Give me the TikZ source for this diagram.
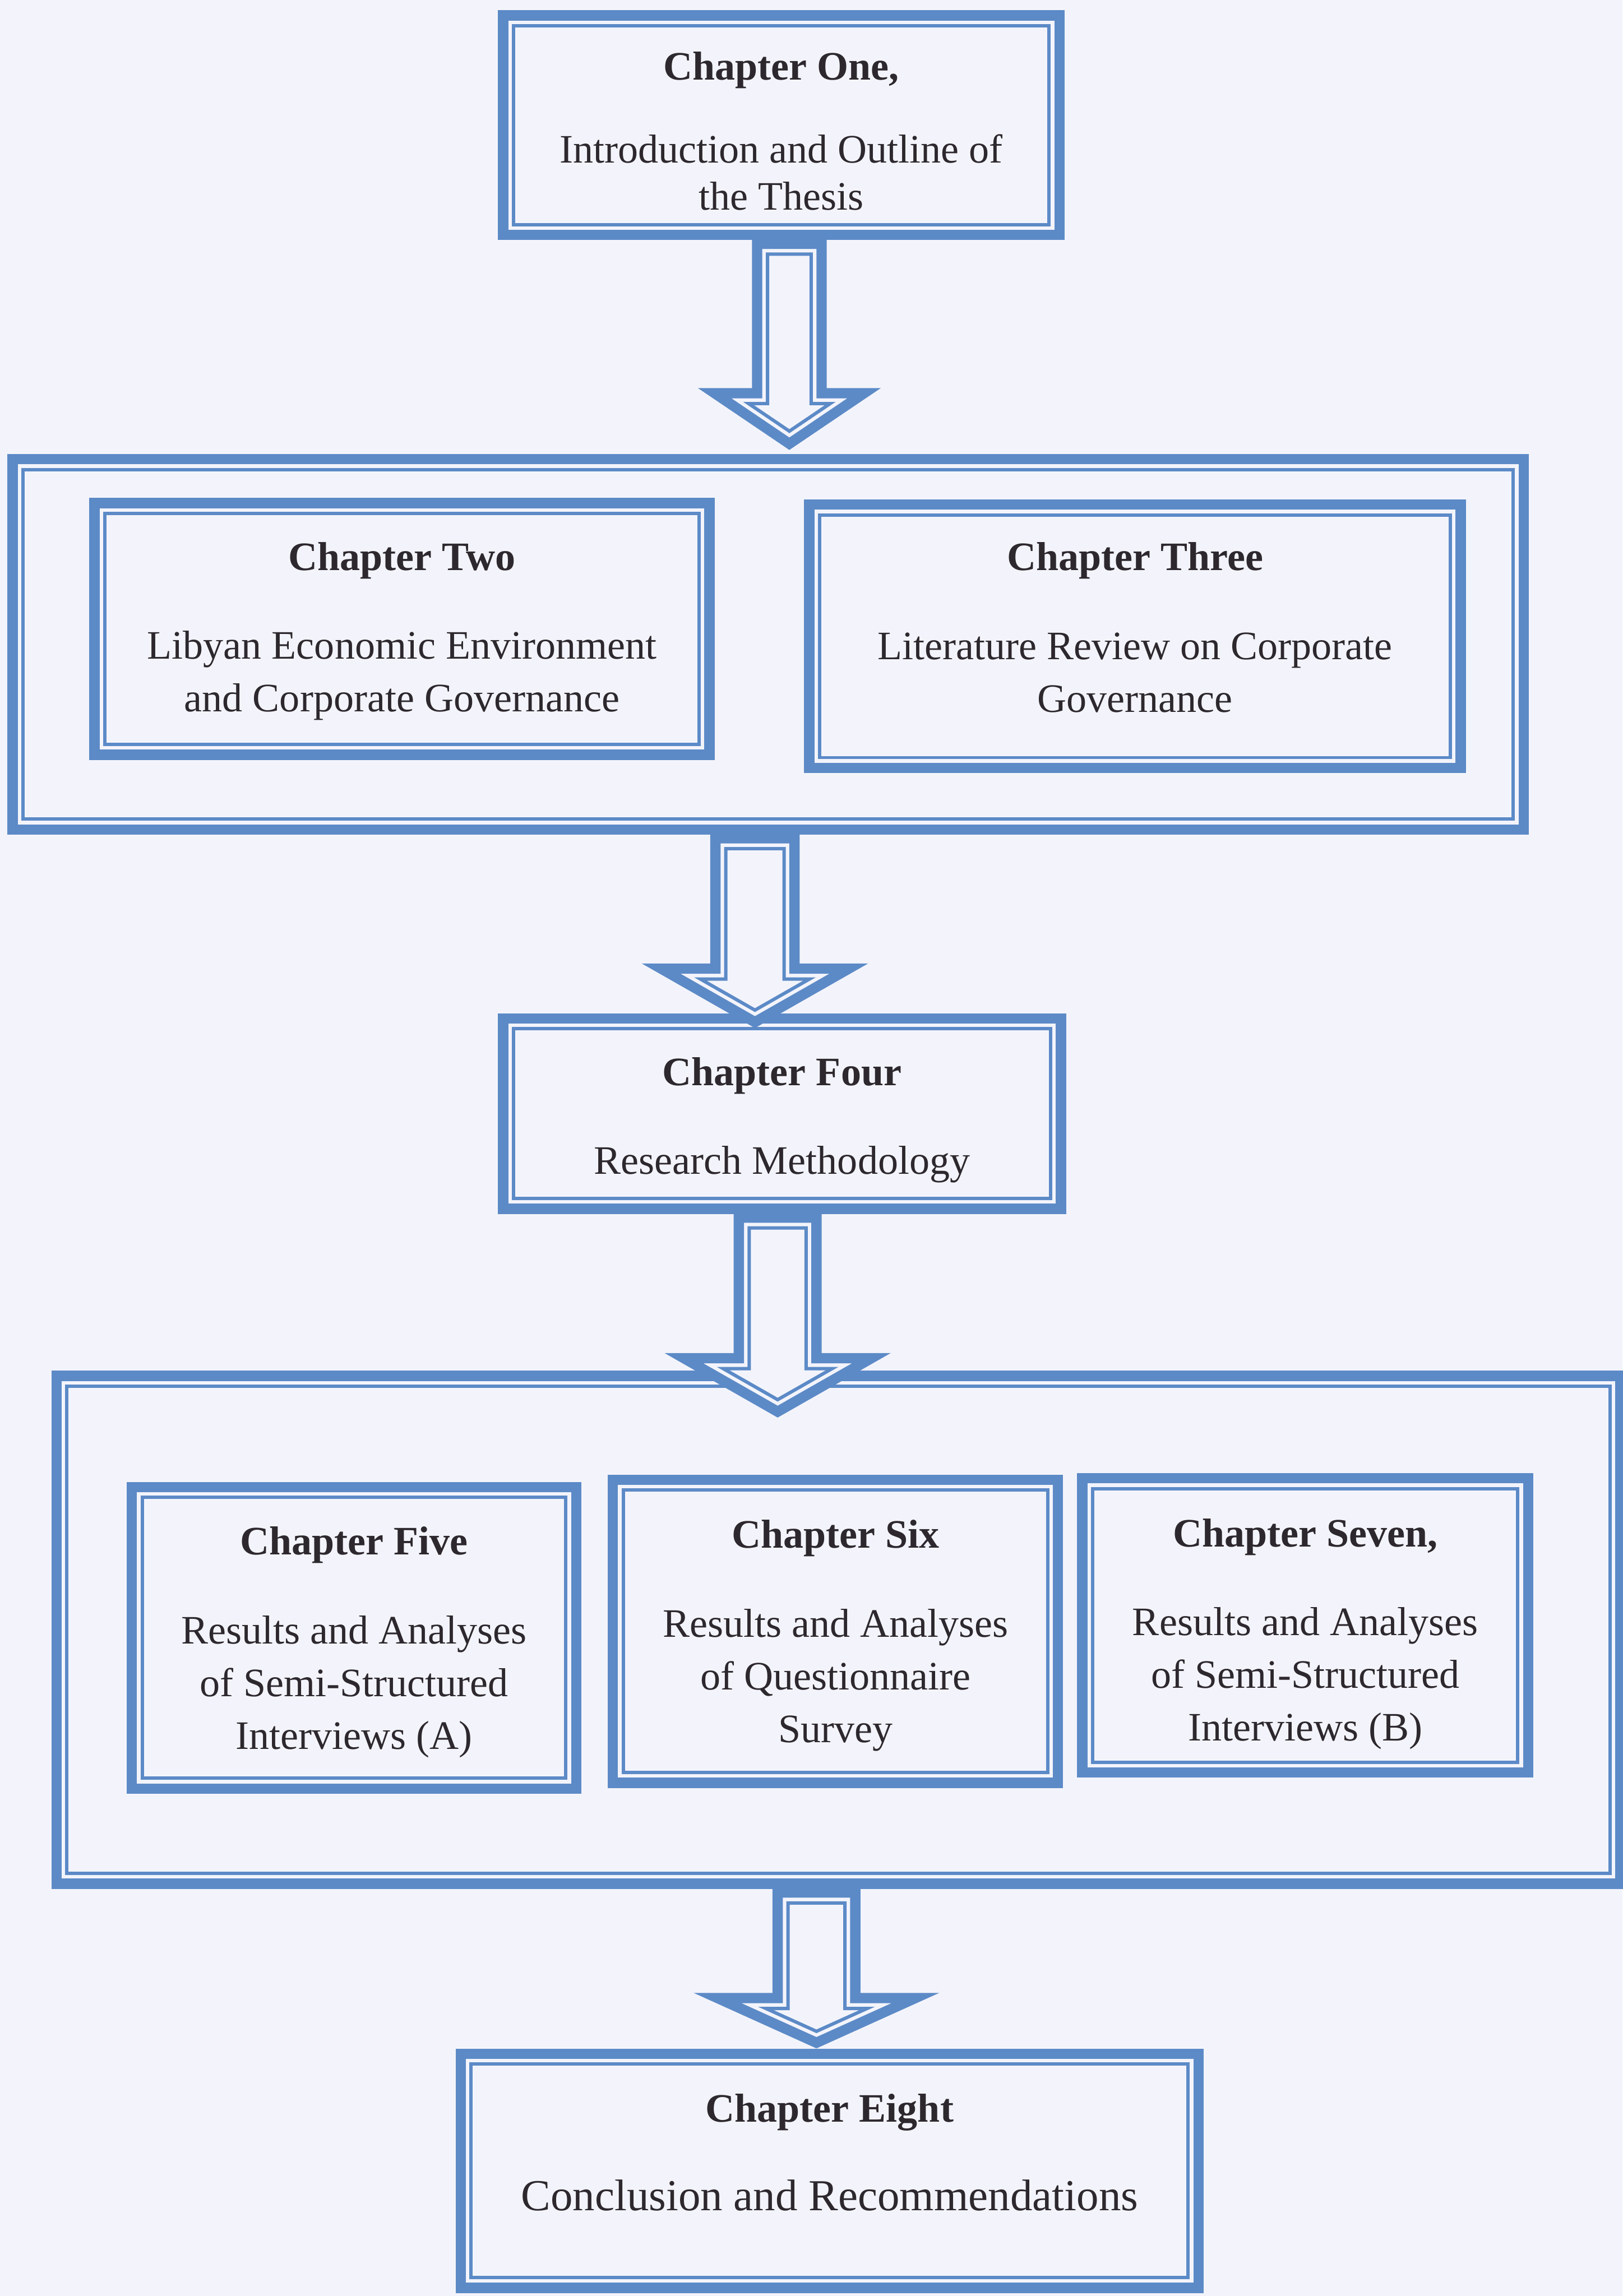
\documentclass[tikz,border=0pt]{standalone}
\usepackage{fontspec}
\setmainfont{Liberation Serif}
\usetikzlibrary{calc}

\tikzset{
  chapter/.style={draw=cblue, line width=4pt, fill=pagebg, inner sep=0pt, outer sep=0pt},
  chaptext/.style={align=center, text=ink, inner sep=0pt, font=\fontsize{15.7}{20.5}\selectfont},
  thinframe/.style={draw=cblue, line width=1.3pt},
  blockout/.style={draw=cblue, line width=4pt, fill=pagebg},
  blockin/.style={draw=cblue, line width=1.3pt}
}

% gap from the thick line to the thin line (in px of the picture)
\newcommand{\arrd}{7.1}
% #1 top, #2 tip, #3 half shaft, #4 half head, #5 head length
\newcommand{\blockarrow}[5]{%
  \pgfmathsetmacro\arrtip{\arrd/sin(atan(#4/#5))}
  \pgfmathsetmacro\arrcx{#4*(#5-\arrtip-\arrd)/#5}
  \pgfmathsetmacro\arrs{#3-\arrd}
  \draw[blockout] ($(#1)+(-#3,0)$) -- ($(#1)+(#3,0)$) -- ($(#2)+(#3,-#5)$) -- ($(#2)+(#4,-#5)$) -- (#2) -- ($(#2)+(-#4,-#5)$) -- ($(#2)+(-#3,-#5)$) -- cycle;
  \draw[blockin] ($(#1)+(-\arrs,\arrd)$) -- ($(#1)+(\arrs,\arrd)$) -- ($(#2)+(\arrs,-#5+\arrd)$) -- ($(#2)+(\arrcx,-#5+\arrd)$) -- ($(#2)+(0,-\arrtip)$) -- ($(#2)+(-\arrcx,-#5+\arrd)$) -- ($(#2)+(-\arrs,-#5+\arrd)$) -- cycle;
}

\begin{document}
\begin{tikzpicture}[x=0.02cm, y=-0.02cm]
	\definecolor{cblue}{RGB}{92,138,199}
	\definecolor{pagebg}{RGB}{243,244,251}
	\definecolor{ink}{RGB}{45,40,45}
	\path[use as bounding box, fill=pagebg] (0,0) rectangle (1108,1568);

	% outer frames
	\node (box2) at (524.5,440) [chapter, minimum width=20.64cm, minimum height=5.06cm] {};
	\node (box3) at (572.5,1113) [chapter, minimum width=21.36cm, minimum height=6.94cm] {};

	% chapters
	\node (one) at (533.5,85.5) [chapter, minimum width=7.6cm, minimum height=3.0cm,
		label={[chaptext, yshift=-2.3pt, font=\fontsize{15.7}{18.2}\selectfont]center:{\textbf{Chapter One,}\\[14pt] Introduction and Outline of\\ the Thesis}}] {};
	\node (two) at (274.5,429.5) [chapter, minimum width=8.4cm, minimum height=3.44cm,
		label={[chaptext, yshift=-0.9pt]center:{\textbf{Chapter Two}\\[14pt] Libyan Economic Environment\\ and Corporate Governance}}] {};
	\node (three) at (775,434.5) [chapter, minimum width=8.9cm, minimum height=3.6cm,
		label={[chaptext, yshift=3.4pt]center:{\textbf{Chapter Three}\\[14pt] Literature Review on Corporate\\ Governance}}] {};
	\node (four) at (534,760.5) [chapter, minimum width=7.62cm, minimum height=2.6cm,
		label={[chaptext, yshift=-2.6pt]center:{\textbf{Chapter Four}\\[14pt] Research Methodology}}] {};
	\node (five) at (241.75,1118.5) [chapter, minimum width=6.07cm, minimum height=4.12cm,
		label={[chaptext, yshift=-1.7pt]center:{\textbf{Chapter Five}\\[14pt] Results and Analyses\\ of Semi-Structured\\ Interviews (A)}}] {};
	\node (six) at (570.5,1114) [chapter, minimum width=6.08cm, minimum height=4.14cm,
		label={[chaptext, yshift=-1.7pt]center:{\textbf{Chapter Six}\\[14pt] Results and Analyses\\ of Questionnaire\\ Survey}}] {};
	\node (seven) at (891.25,1110) [chapter, minimum width=6.09cm, minimum height=4.02cm,
		label={[chaptext, yshift=-3.4pt]center:{\textbf{Chapter Seven,}\\[14pt] Results and Analyses\\ of Semi-Structured\\ Interviews (B)}}] {};
	\node (eight) at (566.5,1482.5) [chapter, minimum width=10.08cm, minimum height=3.2cm,
		label={[chaptext, yshift=7.1pt]center:{\textbf{Chapter Eight}\\[14pt] {\fontsize{17.2}{20.5}\selectfont Conclusion and Recommendations}}}] {};

	% thin inner lines
	\foreach \n in {box2,box3,one,two,three,four,five,six,seven,eight}
		\draw[thinframe] ([shift={(4.05pt,4.05pt)}]\n.south west) rectangle ([shift={(-4.05pt,-4.05pt)}]\n.north east);

	% block arrows
	\coordinate (ax1) at (539,0);
	\coordinate (ax2) at (515.5,0);
	\coordinate (ax3) at (531,0);
	\coordinate (ax4) at (557.5,0);
	\coordinate (top1) at ($(one.south -| ax1)+(0,6)$);
	\coordinate (tip1) at ($(box2.north -| ax1)+(0,-10.5)$);
	\coordinate (top2) at ($(box2.south -| ax2)+(0,6)$);
	\coordinate (tip2) at ($(four.north -| ax2)+(0,2.5)$);
	\coordinate (top3) at ($(four.south -| ax3)+(0,6)$);
	\coordinate (tip3) at ($(box3.north -| ax3)+(0,24.5)$);
	\coordinate (top4) at ($(box3.south -| ax4)+(0,6)$);
	\coordinate (tip4) at ($(eight.north -| ax4)+(0,-7.5)$);
	\blockarrow{top1}{tip1}{22}{51}{34.5}
	\blockarrow{top2}{tip2}{27}{64}{36.5}
	\blockarrow{top3}{tip3}{26.5}{64}{36.5}
	\blockarrow{top4}{tip4}{26.5}{67.5}{30.5}
\end{tikzpicture}
\end{document}
